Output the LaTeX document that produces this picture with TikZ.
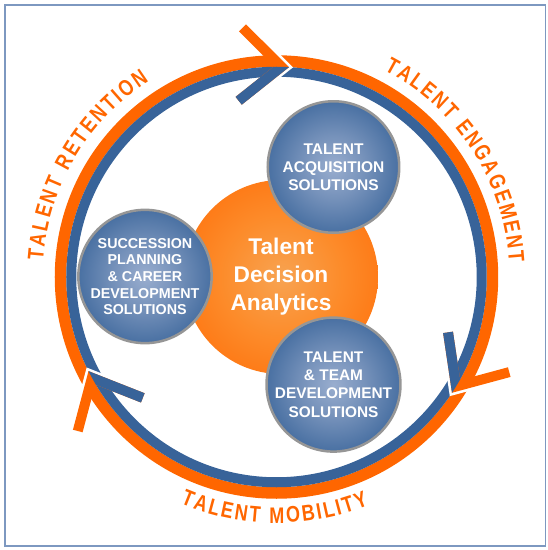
\documentclass[tikz,border=0pt]{standalone}
\usepackage{fontspec}
\setmainfont{Liberation Sans}
\newfontfamily\ringfont[FakeStretch=0.8]{Liberation Sans}
\usetikzlibrary{decorations.text}

\definecolor{ringorange}{RGB}{255,102,0}
\definecolor{ringblue}{RGB}{56,99,153}
\definecolor{rimgray}{RGB}{150,150,150}
\definecolor{framecol}{RGB}{125,152,192}

\pgfdeclareradialshading{ballshade}{\pgfpoint{0bp}{0bp}}{rgb(0bp)=(0.60,0.68,0.81); rgb(12bp)=(0.46,0.57,0.73); rgb(30bp)=(0.22,0.39,0.60); rgb(50bp)=(0.22,0.39,0.60)}
\pgfdeclareradialshading{coreshade}{\pgfpoint{0bp}{0bp}}{rgb(0bp)=(0.97,0.64,0.32); rgb(15bp)=(0.99,0.55,0.17); rgb(35bp)=(1,0.42,0.02); rgb(50bp)=(1,0.40,0)}

\tikzstyle{ball} = [circle, minimum size=131.5pt, inner sep=0pt, draw=rimgray, line width=2.5pt, shading=ballshade, text=white, align=center]
\tikzstyle{core} = [circle, minimum size=194pt, inner sep=0pt, shading=coreshade, text=white, align=center, font=\bfseries\fontsize{22.7}{28}\selectfont]
\tikzstyle{barb} = [line width=10pt]
\tikzstyle{lbl} = [decorate, decoration={text along path, text align={fit to path}, text color=ringorange}]

\begin{document}
\begin{tikzpicture}[x=1pt, y=1pt]
    \useasboundingbox (-276.5,-273) rectangle (271.5,277);
    \draw [framecol, line width=1.5pt] (-271.5,-269) rectangle (269,272);

    % the two rings
    \draw [ringorange, line width=11.5pt] (0,0) circle (216);
    \draw [ringblue, line width=10pt] (0,0) circle (205.25);

    % split arrow heads
    \foreach \a in {87,-33,207} {
        \begin{scope}[rotate=\a-90]
            \draw [barb, white] (-43,247) -- (-2,210.25) -- (-43,174);
            \draw [barb, ringorange] (-47,247) -- (-6,210.25) -- (-47,174);
            \begin{scope}
                \clip (0,0) circle (210.25);
                \draw [barb, ringblue] (-47,247) -- (-6,210.25) -- (-47,174);
            \end{scope}
        \end{scope}
    }

    % ring labels
    \path [lbl, decoration={text={|\ringfont\bfseries\fontsize{22.5}{22.5}\selectfont|TALENT RETENTION}}]
        (176:234) arc [start angle=176, end angle=123, radius=234];
    \path [lbl, decoration={text={|\ringfont\bfseries\fontsize{22.5}{22.5}\selectfont|TALENT ENGAGEMENT}}]
        (62.5:233) arc [start angle=62.5, end angle=3.5, radius=233];
    \path [lbl, decoration={text={|\ringfont\bfseries\fontsize{22.5}{22.5}\selectfont|TALENT MOBILITY}}]
        (247:246) arc [start angle=247, end angle=292, radius=246];

    % circles
    \node (tda) [core] at (4.5,0) {Talent\\Decision\\Analytics};
    \node (acq) [ball, font=\bfseries\fontsize{15.5}{18}\selectfont] at (57,110) {TALENT\\ACQUISITION\\SOLUTIONS};
    \node (team) [ball, font=\bfseries\fontsize{15.4}{18.3}\selectfont] at (57,-107.6) {TALENT\\\& TEAM\\DEVELOPMENT\\SOLUTIONS};
    \node (succ) [ball, font=\bfseries\fontsize{14.3}{16.7}\selectfont] at (-131.5,0.5) {SUCCESSION\\PLANNING\\\& CAREER\\DEVELOPMENT\\SOLUTIONS};
\end{tikzpicture}
\end{document}
